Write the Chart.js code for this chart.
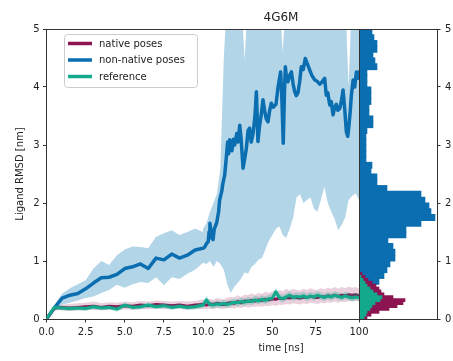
<!DOCTYPE html>
<html>
<head>
<meta charset="utf-8">
<script src="https://cdn.jsdelivr.net/npm/chart.js@4.4.0/dist/chart.umd.min.js"></script>
<style>
  html, body { margin: 0; padding: 0; background: #fff; }
  #fig { position: relative; width: 453px; height: 361px; }
  #fig canvas { position: absolute; top: 0; }
</style>
</head>
<body>
<div id="fig">
  <canvas id="early" width="220" height="361" style="left:0px"></canvas>
  <canvas id="hist" width="94" height="361" style="left:359px"></canvas>
  <canvas id="late" width="196" height="361" style="left:183px"></canvas>
</div>
<script>
// ---- data ----
const chartTitle = '4G6M';
const seriesNames = ['native poses', 'non-native poses', 'reference'];
const yTicks = [0, 1, 2, 3, 4, 5];
const earlyTicks = [0, 2.5, 5, 7.5, 10];
const lateTicks = [25, 50, 75, 100];

// 0 - 10 ns
const tEarly = [0, 0.5, 1, 1.5, 2, 2.5, 3, 3.5, 4, 4.5, 5, 5.5, 6, 6.5, 7, 7.5, 8, 8.5, 9, 9.5, 10];
const nonNativeEarly   = [0, 0.19, 0.36, 0.41, 0.44, 0.52, 0.62, 0.71, 0.72, 0.77, 0.87, 0.90, 0.95, 0.87, 1.05, 1.02, 1.12, 1.05, 1.10, 1.19, 1.22];
const nonNativeEarlyLo = [0, 0.15, 0.25, 0.28, 0.32, 0.36, 0.39, 0.45, 0.50, 0.59, 0.54, 0.60, 0.64, 0.62, 0.72, 0.58, 0.72, 0.69, 0.78, 0.85, 0.97];
const nonNativeEarlyHi = [0, 0.24, 0.44, 0.53, 0.60, 0.67, 0.87, 1.00, 0.93, 1.10, 1.20, 1.25, 1.24, 1.22, 1.42, 1.48, 1.53, 1.45, 1.50, 1.56, 1.50];
const nativeEarly   = [0, 0.19, 0.20, 0.19, 0.20, 0.21, 0.22, 0.20, 0.22, 0.21, 0.23, 0.22, 0.24, 0.23, 0.25, 0.24, 0.23, 0.24, 0.22, 0.24, 0.25];
const nativeEarlyLo = [0, 0.15, 0.15, 0.14, 0.15, 0.15, 0.16, 0.15, 0.16, 0.15, 0.17, 0.16, 0.17, 0.17, 0.18, 0.17, 0.17, 0.18, 0.16, 0.17, 0.18];
const nativeEarlyHi = [0, 0.22, 0.25, 0.26, 0.27, 0.28, 0.30, 0.27, 0.29, 0.28, 0.30, 0.29, 0.31, 0.30, 0.32, 0.31, 0.30, 0.31, 0.30, 0.31, 0.34];
const refEarly   = [0, 0.20, 0.19, 0.18, 0.19, 0.18, 0.21, 0.19, 0.20, 0.17, 0.24, 0.20, 0.21, 0.24, 0.21, 0.23, 0.20, 0.22, 0.20, 0.21, 0.24];
const refEarlyLo = [0, 0.17, 0.15, 0.14, 0.15, 0.14, 0.17, 0.15, 0.16, 0.13, 0.20, 0.16, 0.17, 0.20, 0.17, 0.19, 0.16, 0.18, 0.16, 0.17, 0.18];
const refEarlyHi = [0, 0.23, 0.23, 0.22, 0.23, 0.22, 0.25, 0.23, 0.24, 0.21, 0.28, 0.24, 0.25, 0.28, 0.25, 0.27, 0.24, 0.26, 0.24, 0.25, 0.30];

// 10 - 100 ns
const tLate = [10, 12, 14, 16, 18, 20, 22, 24, 26, 28, 30, 32, 34, 36, 38, 40, 42, 44, 46, 48, 50, 52, 54,
  56, 58, 60, 62, 64, 66, 68, 70, 72, 74, 76, 78, 80, 82, 84, 86, 88, 90, 92, 94, 96, 98, 100];
const nonNativeLateLo = [0.97, 0.95, 1.0, 0.9, 1.0, 0.95, 0.85, 0.6, 0.45, 0.55, 0.62, 0.7, 0.8, 0.78, 0.9, 0.95,
  1.02, 1.05, 1.2, 1.35, 1.45, 1.55, 1.6, 1.45, 1.4, 1.55, 1.75, 2.1, 2.15, 2.0, 2.05, 2.1, 1.9, 1.85, 2.05,
  2.28, 2.0, 1.85, 1.72, 1.53, 1.62, 1.75, 2.05, 2.12, 2.17, 2.05];
const nonNativeLateHi = [1.55, 1.65, 1.85, 2.0, 2.15, 2.6, 4.5, 5.6, 5.6, 5.6, 5.6, 5.6, 4.45, 5.6, 5.6, 5.6,
  5.6, 5.6, 5.6, 5.6, 5.6, 5.6, 5.6, 4.6, 5.6, 5.6, 5.6, 5.6, 5.6, 5.6, 5.6, 5.6, 5.6, 5.6, 5.6,
  5.6, 5.6, 5.6, 5.6, 5.6, 5.6, 5.6, 4.0, 5.6, 5.6, 5.6];
const tNonNativeLate = [10, 11, 12, 13, 13.5, 14, 15, 15.8, 16.5, 17.9, 19, 19.6, 20.8, 21.5, 22.5, 23.4, 24.2,
  24.8, 25.4, 26.7, 27.5, 28.3, 29.5, 30.2, 31.2, 32, 33.1, 34, 35, 36, 36.9, 37.8, 38.9, 40, 40.8, 41.7,
  42.5, 43.6, 44.6, 45.5, 46.5, 47.5, 48.5, 49.4, 50.5, 52.1, 53.3, 54.8, 55.5, 56.3, 57, 57.5, 58.2, 59,
  60, 61, 62, 62.9, 63.8, 64.8, 65.8, 66.7, 67.8, 69, 70.2, 71.6, 72.8, 74.5, 75.8, 77.3, 78.5, 80.2, 81.1,
  82, 83.1, 84, 85, 86, 86.9, 87.8, 88.9, 89.8, 90.8, 91.8, 92.7, 93.5, 94.1, 95, 95.6, 96.6, 97.5, 98.5,
  99.2, 100];
const nonNativeLate = [1.22, 1.24, 1.30, 1.33, 1.50, 1.65, 1.40, 1.37, 1.55, 1.66, 1.85, 2.05, 2.20, 2.34, 2.48,
  2.77, 3.05, 2.85, 3.09, 2.90, 3.10, 3.00, 3.20, 3.05, 3.34, 3.10, 2.60, 2.75, 2.94, 3.25, 3.29, 3.05, 3.20,
  3.50, 3.92, 3.06, 3.30, 3.52, 3.78, 3.60, 3.45, 3.40, 3.60, 3.72, 3.65, 3.70, 4.00, 4.26, 3.80, 3.03, 3.90,
  4.35, 4.15, 4.09, 4.20, 4.26, 4.05, 3.92, 3.85, 3.90, 4.10, 4.35, 4.30, 4.49, 4.40, 4.29, 4.20, 4.12, 4.10,
  4.05, 4.08, 4.15, 3.86, 3.90, 3.69, 3.75, 3.52, 3.65, 3.70, 3.60, 3.63, 3.75, 3.95, 3.60, 3.23, 3.15, 3.30,
  3.60, 3.86, 4.12, 4.00, 4.26, 4.15, 4.26];
const nativeLate = [0.25, 0.24, 0.26, 0.25, 0.27, 0.26, 0.25, 0.27, 0.28, 0.27, 0.30, 0.28, 0.31, 0.30, 0.32,
  0.31, 0.33, 0.32, 0.34, 0.33, 0.35, 0.34, 0.36, 0.35, 0.37, 0.36, 0.38, 0.37, 0.36, 0.38, 0.37, 0.39, 0.38,
  0.37, 0.39, 0.38, 0.40, 0.39, 0.41, 0.39, 0.41, 0.40, 0.42, 0.41, 0.42, 0.40];
const nativeLateHi = [0.33, 0.32, 0.35, 0.33, 0.36, 0.35, 0.34, 0.37, 0.38, 0.37, 0.41, 0.38, 0.42, 0.41, 0.44,
  0.42, 0.45, 0.43, 0.47, 0.45, 0.48, 0.46, 0.50, 0.48, 0.52, 0.49, 0.52, 0.50, 0.49, 0.52, 0.50, 0.53, 0.51,
  0.50, 0.53, 0.51, 0.54, 0.52, 0.55, 0.52, 0.55, 0.53, 0.56, 0.54, 0.55, 0.52];
const nativeLateLo = [0.18, 0.17, 0.18, 0.17, 0.19, 0.18, 0.17, 0.19, 0.19, 0.18, 0.20, 0.19, 0.21, 0.20, 0.21,
  0.21, 0.22, 0.21, 0.23, 0.22, 0.24, 0.23, 0.25, 0.24, 0.26, 0.25, 0.27, 0.26, 0.25, 0.27, 0.26, 0.28, 0.27,
  0.26, 0.28, 0.27, 0.29, 0.28, 0.30, 0.28, 0.30, 0.29, 0.31, 0.30, 0.31, 0.30];
const refLate = [0.24, 0.33, 0.25, 0.24, 0.26, 0.25, 0.27, 0.25, 0.27, 0.29, 0.28, 0.30, 0.29, 0.31, 0.30,
  0.33, 0.31, 0.34, 0.32, 0.35, 0.36, 0.47, 0.37, 0.35, 0.38, 0.41, 0.37, 0.39, 0.38, 0.40, 0.37, 0.40, 0.38,
  0.41, 0.39, 0.37, 0.40, 0.38, 0.41, 0.39, 0.37, 0.40, 0.38, 0.36, 0.38, 0.37];
const refLateHi = [0.30, 0.40, 0.31, 0.30, 0.32, 0.31, 0.33, 0.31, 0.33, 0.35, 0.34, 0.37, 0.35, 0.38, 0.36,
  0.40, 0.38, 0.41, 0.39, 0.42, 0.43, 0.54, 0.44, 0.42, 0.45, 0.48, 0.44, 0.46, 0.45, 0.47, 0.44, 0.47, 0.45,
  0.48, 0.46, 0.44, 0.47, 0.45, 0.48, 0.46, 0.44, 0.47, 0.45, 0.43, 0.45, 0.44];
const refLateLo = [0.18, 0.26, 0.19, 0.18, 0.20, 0.19, 0.21, 0.19, 0.21, 0.23, 0.22, 0.24, 0.23, 0.25, 0.24,
  0.27, 0.25, 0.28, 0.26, 0.29, 0.30, 0.40, 0.31, 0.29, 0.32, 0.35, 0.31, 0.33, 0.32, 0.34, 0.31, 0.34, 0.32,
  0.35, 0.33, 0.31, 0.34, 0.32, 0.35, 0.33, 0.31, 0.34, 0.32, 0.30, 0.32, 0.31];

// RMSD histograms (bin centres in nm, counts)
const binsWide = [0.05, 0.15, 0.25, 0.35, 0.45, 0.55, 0.65, 0.75, 0.85, 0.95, 1.05, 1.15, 1.25, 1.35, 1.45,
  1.55, 1.65, 1.75, 1.85, 1.95, 2.05, 2.15, 2.25, 2.35, 2.45, 2.55, 2.65, 2.75, 2.85, 2.95, 3.05, 3.15, 3.25,
  3.35, 3.45, 3.55, 3.65, 3.75, 3.85, 3.95, 4.05, 4.15, 4.25, 4.35, 4.45, 4.55, 4.65, 4.75, 4.85, 4.95];
const histNonNative = [5, 8, 10, 12, 14, 16, 20, 25, 28, 31, 36, 36, 34, 29, 47, 47, 62, 76, 72, 70, 66, 62, 28,
  18, 18, 12, 13, 7, 7, 7, 7, 7, 8, 14, 14, 10, 10, 12, 12, 12, 8, 8, 8, 18, 16, 14, 18, 18, 15, 13];
const binsFine = [0.025, 0.075, 0.125, 0.175, 0.225, 0.275, 0.325, 0.375, 0.425, 0.475, 0.525, 0.575, 0.625,
  0.675, 0.725, 0.775];
const histNative = [8, 12, 20, 30, 38, 44, 46, 34, 25, 22, 20, 17, 13, 9, 6, 3];
const histRef = [5, 7, 8, 11, 13, 16, 21, 23, 18, 14, 11, 8, 6, 4, 2];

// ---- style ----
const INK = '#222222';
const SPINE = '#333333';
const colors = { native: '#8c1450', nonNative: '#0a6eb0', ref: '#13a98c' };
const bands = { native: 'rgba(146,20,81,0.2)', nonNative: 'rgba(1,115,178,0.3)', ref: 'rgba(2,158,130,0.25)' };
const widths = { native: 3, nonNative: 3.5, ref: 3 };

Chart.defaults.font.family = '"DejaVu Sans", sans-serif';
Chart.defaults.font.size = 10;
Chart.defaults.color = INK;

function pts(t, v) {
  return t.map((x, i) => ({ x: x, y: v[i] }));
}

// mean line + invisible lower bound + upper bound filled down to it
function band(t, mean, lo, hi, key, tMean) {
  return [
    { data: pts(tMean || t, mean), borderColor: colors[key], borderWidth: widths[key] },
    { data: pts(t, lo), borderColor: 'transparent', borderWidth: 0 },
    { data: pts(t, hi), borderColor: 'transparent', borderWidth: 0, fill: '-1', backgroundColor: bands[key] }
  ];
}

function spine(axis, position) {
  return {
    type: 'linear', axis: axis, position: position,
    ticks: { display: false },
    grid: { display: false },
    border: { display: true, color: SPINE, width: 1, z: 1 },
    afterFit: s => { if (s.isHorizontal()) s.height = 0; else s.width = 0; }
  };
}

const tickGrid = { display: true, drawOnChartArea: false, drawTicks: true, tickLength: 3.5,
  color: SPINE, tickColor: SPINE, lineWidth: 1, tickWidth: 1 };

function setTicks(values) {
  return s => { s.ticks = values.map(v => ({ value: v })); };
}

const lineDefaults = {
  line: { tension: 0, borderJoinStyle: 'round', borderCapStyle: 'round' },
  point: { radius: 0, hoverRadius: 0, hitRadius: 0 }
};

// legend in a rounded box, top left of the first panel
const boxLegend = {
  id: 'boxLegend',
  afterDraw(chart) {
    const ctx = chart.ctx, a = chart.chartArea;
    const x = a.left + 17.5, y = a.top + 5;
    const items = [
      { text: seriesNames[0], color: colors.native },
      { text: seriesNames[1], color: colors.nonNative },
      { text: seriesNames[2], color: colors.ref }
    ];
    ctx.save();
    ctx.fillStyle = 'rgba(255,255,255,0.8)';
    ctx.strokeStyle = '#cccccc';
    ctx.lineWidth = 1;
    ctx.beginPath();
    ctx.roundRect(x + 0.5, y + 0.5, 133, 53, 3);
    ctx.fill();
    ctx.stroke();
    ctx.font = '10px "DejaVu Sans"';
    ctx.textBaseline = 'middle';
    items.forEach((it, i) => {
      const yy = y + 9.5 + i * 16.5;
      ctx.strokeStyle = it.color;
      ctx.lineWidth = 3.5;
      ctx.beginPath();
      ctx.moveTo(x + 4, yy);
      ctx.lineTo(x + 28, yy);
      ctx.stroke();
      ctx.fillStyle = INK;
      ctx.fillText(it.text, x + 35, yy + 0.5);
    });
    ctx.restore();
  }
};

// ---- first panel: 0 - 10 ns ----
new Chart(document.getElementById('early'), {
  type: 'line',
  data: { datasets: [
    ...band(tEarly, refEarly, refEarlyLo, refEarlyHi, 'ref'),
    ...band(tEarly, nativeEarly, nativeEarlyLo, nativeEarlyHi, 'native'),
    ...band(tEarly, nonNativeEarly, nonNativeEarlyLo, nonNativeEarlyHi, 'nonNative')
  ]},
  options: {
    responsive: false, animation: false, events: [],
    layout: { padding: { top: 29, right: 17, bottom: 0, left: 0 } },
    elements: lineDefaults,
    plugins: { legend: { display: false }, tooltip: { enabled: false } },
    scales: {
      x: {
        type: 'linear', min: 0, max: 10, position: 'bottom',
        grid: tickGrid,
        border: { display: true, color: SPINE, width: 1 },
        ticks: { padding: 4, maxRotation: 0, autoSkip: false, callback: v => v.toFixed(1) },
        afterBuildTicks: setTicks(earlyTicks),
        afterFit: s => { s.height = 42; }
      },
      y: {
        type: 'linear', min: 0, max: 5, position: 'left',
        grid: tickGrid,
        border: { display: true, color: SPINE, width: 1 },
        ticks: { padding: 3.5, callback: v => String(v) },
        afterBuildTicks: setTicks(yTicks),
        title: { display: true, text: 'Ligand RMSD [nm]', color: INK, font: { size: 10 }, padding: { top: 14, bottom: 0 } },
        afterFit: s => { s.width = 46.5; }
      },
      xTop: spine('x', 'top')
    }
  },
  plugins: [boxLegend]
});

// ---- histogram panel ----
function bins(centres, counts) {
  return counts.map((c, i) => ({ x: c, y: centres[i] }));
}

new Chart(document.getElementById('hist'), {
  type: 'bar',
  data: { datasets: [
    { label: seriesNames[2], data: bins(binsFine, histRef), backgroundColor: colors.ref, barThickness: 3.2 },
    { label: seriesNames[0], data: bins(binsFine, histNative), backgroundColor: colors.native, barThickness: 3.2 },
    { label: seriesNames[1], data: bins(binsWide, histNonNative), backgroundColor: colors.nonNative, barThickness: 6.2 }
  ]},
  options: {
    indexAxis: 'y',
    responsive: false, animation: false, events: [],
    layout: { padding: { top: 29, right: 0, bottom: 0, left: 0 } },
    datasets: { bar: { grouped: false, barPercentage: 1, categoryPercentage: 1, borderWidth: 0 } },
    plugins: { legend: { display: false }, tooltip: { enabled: false } },
    scales: {
      x: {
        type: 'linear', min: 0, max: 78, position: 'bottom',
        ticks: { display: false },
        grid: { display: false },
        border: { display: true, color: SPINE, width: 1 },
        afterFit: s => { s.height = 42; }
      },
      y: {
        type: 'linear', min: 0, max: 5, position: 'right', offset: false,
        grid: Object.assign({}, tickGrid, { offset: false }),
        border: { display: true, color: SPINE, width: 1 },
        ticks: { padding: 4.5, callback: v => String(v) },
        afterBuildTicks: setTicks(yTicks),
        afterFit: s => { s.width = 16; }
      },
      xTop: spine('x', 'top'),
      yLeft: spine('y', 'left')
    }
  }
});

// ---- second panel: 10 - 100 ns ----
new Chart(document.getElementById('late'), {
  type: 'line',
  data: { datasets: [
    ...band(tLate, refLate, refLateLo, refLateHi, 'ref'),
    ...band(tLate, nativeLate, nativeLateLo, nativeLateHi, 'native'),
    ...band(tLate, nonNativeLate, nonNativeLateLo, nonNativeLateHi, 'nonNative', tNonNativeLate)
  ]},
  options: {
    responsive: false, animation: false, events: [],
    layout: { padding: { top: 0, right: 20, bottom: 0, left: 20 } },
    elements: lineDefaults,
    plugins: {
      legend: { display: false }, tooltip: { enabled: false },
      title: { display: true, text: chartTitle, fullSize: false, color: INK,
        font: { size: 12, weight: 'normal' }, padding: { top: 10.8, bottom: 3.8 } }
    },
    scales: {
      x: {
        type: 'linear', min: 10, max: 100, position: 'bottom',
        grid: tickGrid,
        border: { display: true, color: SPINE, width: 1 },
        ticks: { padding: 4, maxRotation: 0, autoSkip: false, callback: v => String(v) },
        afterBuildTicks: setTicks(lateTicks),
        title: { display: true, text: 'time [ns]', color: INK, font: { size: 10 }, padding: { top: 0, bottom: 7 } },
        afterFit: s => { s.height = 42; }
      },
      y: Object.assign(spine('y', 'right'), { min: 0, max: 5 }),
      xTop: spine('x', 'top')
    }
  }
});
</script>
</body>
</html>
